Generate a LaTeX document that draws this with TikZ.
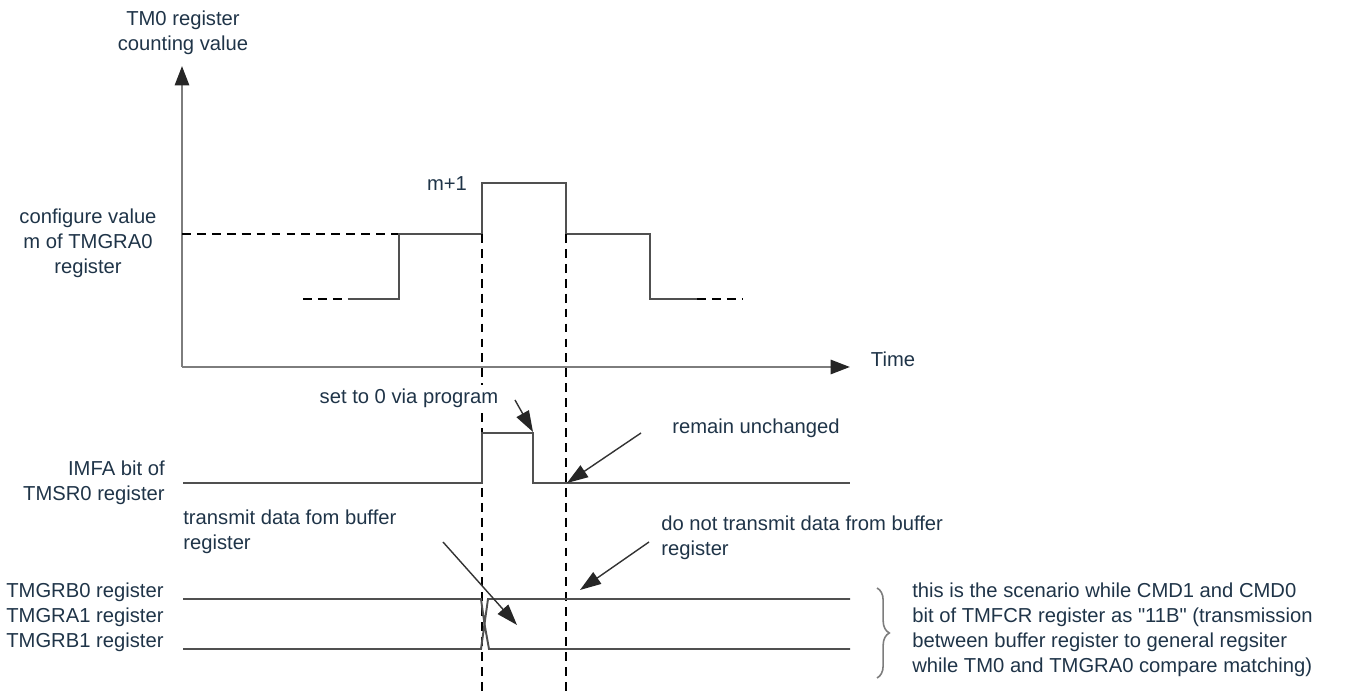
\documentclass[tikz,border=0pt]{standalone}
\usepackage{fontspec}
\setmainfont{Liberation Sans}
\newfontfamily\plainfont{Liberation Sans}
\usetikzlibrary{arrows.meta,decorations.pathreplacing}
\definecolor{txtcol}{RGB}{31,52,72}
\definecolor{sigcol}{RGB}{80,80,80}
\definecolor{axcol}{RGB}{125,125,125}
\tikzset{
  lbl/.style={text=txtcol,font=\fontsize{11.5}{14.2}\selectfont,inner sep=0pt},
  sig/.style={draw=sigcol,line width=1.1pt},
  guide/.style={draw=black,line width=0.8pt,dash pattern=on 5pt off 3.5pt},
  pointer/.style={draw=black!80,line width=0.8pt,-{Triangle[length=12pt,width=8pt,black!85]}},
  axis/.style={draw=axcol,line width=1.5pt,-{Triangle[length=11pt,width=8pt,black!85]}}
}
\begin{document}
\begin{tikzpicture}[x=0.02cm,y=-0.02cm]
  \useasboundingbox (0,0) rectangle (1347,695);
  % axes of the counter
  \coordinate (org) at (182,367);
  \draw [axis] (org) -- (182,66);
  \draw [axis] (org) -- (850,367);
  \node [lbl,align=center] (ylab) at (183,33) {TM0 register\\counting value};
  \node [lbl] (xlab) at (893,359) {Time};
  \node [lbl,align=center] (mlab) at (88,243) {configure value\\m of TMGRA0\\register};
  \node [lbl] (mp1) at (447,184) {m+1};
  % counter value
  \draw [guide] (org |- 0,234) -- (399,234);
  \draw [guide] (303,299) -- (348,299);
  \draw [sig] (348,299) -| (399,234) -| (482,183) -| (566,234) -| (650,299) -- (697,299);
  \draw [guide] (697,299) -- (743,299);
  \draw [guide] (482,234) -- (482,695);
  \draw [guide] (566,234) -- (566,695);
  % IMFA flag
  \node [lbl,align=right,anchor=east] (imfa) at (165,483) {IMFA bit of\\TMSR0 register};
  \draw [sig] (183,483) -| (482,433) -| (533,483) -- (850,483);
  \node [lbl,fill=white,inner sep=2pt] (setz) at (409,398) {set to 0 via program};
  \node [lbl,anchor=west] (keep) at (672,428) {remain unchanged};
  \coordinate (clr) at (533,432);
  \coordinate (hold) at (567,483);
  \draw [pointer] (515,400) -- (clr);
  \draw [pointer] (641,433) -- (hold);
  % buffer registers
  \node [lbl,anchor=west,align=left] (regs) at (6,617) {TMGRB0 register\\TMGRA1 register\\TMGRB1 register};
  \draw [sig] (183,599) -- (481,599) -- (484.5,624) -- (488,599) -- (850,599);
  \draw [sig] (183,649) -- (481,649) -- (484.5,624) -- (489,649) -- (850,649);
  \node [lbl,anchor=west,align=left] (xfer) at (183,532) {transmit data fom buffer\\register};
  \node [lbl,anchor=west,align=left] (noxfer) at (661,538) {do not transmit data from buffer\\register};
  \coordinate (xin) at (517,625);
  \coordinate (nox) at (580,590);
  \draw [pointer] (443,542) -- (xin);
  \draw [pointer] (649,542) -- (nox);
  % note
  \draw [axcol,line width=0.9pt,decorate,decoration={brace,amplitude=7pt}] (877,588) -- (877,678);
  \node [lbl,anchor=west,align=left] (note) at (912,630) {this is the scenario while CMD1 and CMD0\\bit of TMFCR register as {\plainfont"11B"} (transmission\\between buffer register to general regsiter\\while TM0 and TMGRA0 compare matching)};
\end{tikzpicture}
\end{document}
